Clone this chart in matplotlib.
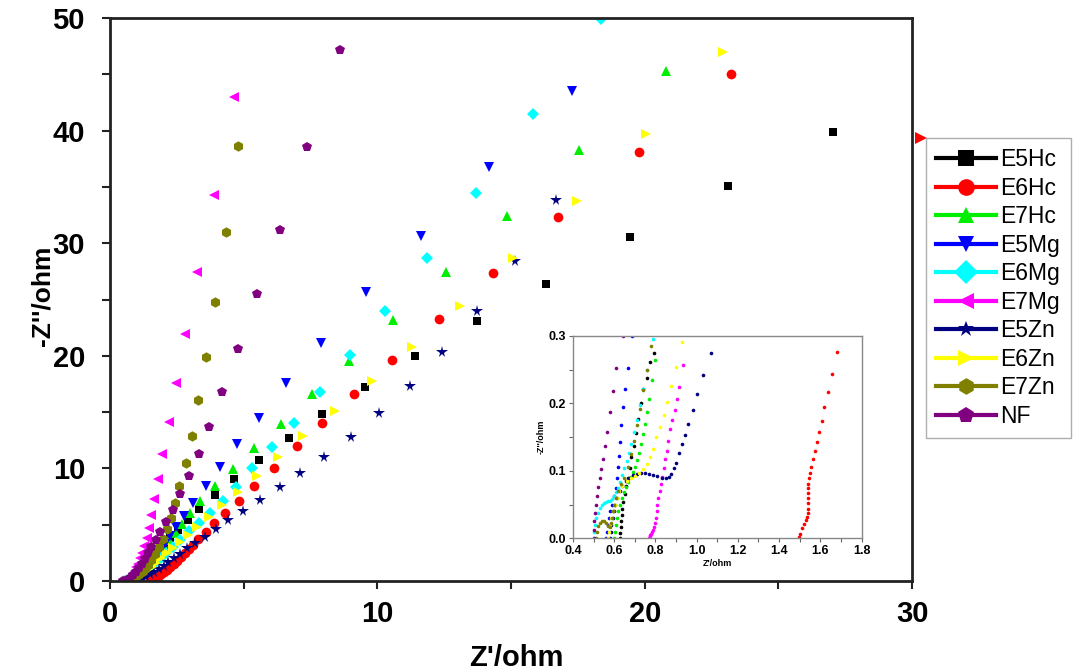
import numpy as np
import matplotlib
matplotlib.use("Agg")
import matplotlib.pyplot as plt
from matplotlib.lines import Line2D
from matplotlib.ticker import MultipleLocator

plt.rcParams['font.family'] = ['Liberation Sans', 'DejaVu Sans']

labels = ['E5Hc', 'E6Hc', 'E7Hc', 'E5Mg', 'E6Mg', 'E7Mg', 'E5Zn', 'E6Zn', 'E7Zn', 'NF']
colors = ['#000000', '#ff0000', '#00ee00', '#0000ff', '#00ffff', '#ff00ff',
          '#000080', '#ffff00', '#808000', '#800080']
markers = ['s', 'o', '^', 'v', 'D', '<', '*', '>', 'h', 'p']

# main plot data (Z', -Z'')
e5hc = np.array([(0.66, 0), (0.74, 0.04), (0.84, 0.14), (0.94, 0.3), (1.04, 0.5), (1.14, 0.75),
                 (1.24, 1.02), (1.35, 1.35), (1.48, 1.72), (1.62, 2.15), (1.8, 2.65), (2.0, 3.2),
                 (2.24, 3.79), (2.56, 4.53), (2.92, 5.39), (3.34, 6.39), (3.93, 7.6), (4.63, 9.03),
                 (5.57, 10.75), (6.7, 12.7), (7.93, 14.8), (9.54, 17.2), (11.4, 20.0), (13.73, 23.1),
                 (16.3, 26.4), (19.45, 30.55), (23.1, 35.1), (27.04, 39.9)])
e6hc = np.array([(1.5, 0), (1.55, 0.04), (1.62, 0.12), (1.7, 0.25), (1.8, 0.4), (1.9, 0.58), (2.0, 0.78),
                 (2.12, 1.0), (2.25, 1.25), (2.38, 1.5), (2.5, 1.8), (2.65, 2.1), (2.8, 2.45), (2.95, 2.8),
                 (3.1, 3.2), (3.3, 3.7), (3.58, 4.35), (3.89, 5.12), (4.3, 6.07), (4.81, 7.13), (5.38, 8.46),
                 (6.14, 10.06), (6.98, 11.99), (7.92, 14.03), (9.14, 16.58), (10.56, 19.6), (12.32, 23.24),
                 (14.32, 27.38), (16.77, 32.3), (19.78, 38.07), (23.23, 45.0)])
e7hc = np.array([(0.7, 0), (0.78, 0.05), (0.88, 0.15), (0.98, 0.3), (1.08, 0.48), (1.18, 0.7), (1.3, 0.95),
                 (1.42, 1.25), (1.55, 1.6), (1.7, 2.0), (1.85, 2.45), (2.0, 3.0), (2.2, 3.6), (2.45, 4.3),
                 (2.7, 5.1), (3.0, 6.0), (3.37, 7.1), (3.94, 8.44), (4.59, 9.95), (5.4, 11.85), (6.39, 13.97),
                 (7.56, 16.58), (8.95, 19.57), (10.58, 23.18), (12.56, 27.4), (14.86, 32.4), (17.55, 38.3),
                 (20.78, 45.3)])
e5mg = np.array([(0.62, 0), (0.72, 0.04), (0.82, 0.13), (0.93, 0.28), (1.05, 0.48), (1.17, 0.72), (1.3, 1.0),
                 (1.43, 1.33), (1.57, 1.72), (1.72, 2.18), (1.88, 2.7), (2.05, 3.3), (2.25, 4.0), (2.47, 4.8),
                 (2.77, 5.77), (3.12, 6.95), (3.59, 8.41), (4.12, 10.1), (4.75, 12.15), (5.57, 14.5),
                 (6.58, 17.56), (7.89, 21.18), (9.56, 25.7), (11.63, 30.64), (14.18, 36.8), (17.28, 43.5)])
e6mg = np.array([(0.52, 0), (0.6, 0.02), (0.72, 0.07), (0.85, 0.18), (0.98, 0.33), (1.12, 0.52), (1.26, 0.75),
                 (1.4, 1.0), (1.55, 1.3), (1.72, 1.65), (1.9, 2.05), (2.1, 2.5), (2.35, 3.05), (2.62, 3.64),
                 (2.96, 4.41), (3.34, 5.18), (3.74, 6.0), (4.21, 7.1), (4.71, 8.37), (5.31, 10.0), (6.06, 11.93),
                 (6.88, 14.03), (7.86, 16.76), (8.98, 20.04), (10.29, 23.98), (11.85, 28.7), (13.69, 34.49),
                 (15.81, 41.47), (18.38, 49.95)])
e7mg = np.array([(0.77, 0), (0.78, 0.14), (0.8, 0.28), (0.83, 0.45), (0.87, 0.65), (0.92, 0.9), (0.98, 1.2),
                 (1.05, 1.55), (1.12, 2.0), (1.2, 2.5), (1.28, 3.1), (1.37, 3.79), (1.46, 4.74), (1.55, 5.86),
                 (1.66, 7.28), (1.81, 9.06), (1.96, 11.28), (2.21, 14.09), (2.48, 17.58), (2.82, 21.96),
                 (3.27, 27.44), (3.87, 34.3), (4.64, 42.96)])
e5zn = np.array([(0.75, 0), (0.9, 0.04), (1.05, 0.12), (1.2, 0.25), (1.35, 0.4), (1.5, 0.58), (1.65, 0.8),
                 (1.82, 1.05), (2.0, 1.35), (2.18, 1.65), (2.38, 2.0), (2.6, 2.4), (2.87, 2.9), (3.18, 3.35),
                 (3.55, 3.94), (3.95, 4.62), (4.42, 5.38), (4.99, 6.2), (5.61, 7.19), (6.35, 8.32), (7.12, 9.55),
                 (8.02, 11.04), (9.0, 12.82), (10.05, 14.92), (11.21, 17.35), (12.42, 20.31), (13.74, 23.95),
                 (15.16, 28.39), (16.67, 33.84)])
e6zn = np.array([(0.62, 0), (0.74, 0.05), (0.86, 0.15), (0.98, 0.3), (1.11, 0.5), (1.25, 0.72), (1.4, 0.98),
                 (1.56, 1.28), (1.73, 1.62), (1.92, 2.02), (2.12, 2.45), (2.35, 2.95), (2.6, 3.5), (2.9, 4.1),
                 (3.27, 4.82), (3.71, 5.66), (4.2, 6.75), (4.8, 7.9), (5.49, 9.35), (6.27, 11.04), (7.23, 12.9),
                 (8.42, 15.07), (9.79, 17.76), (11.31, 20.81), (13.09, 24.42), (15.06, 28.71), (17.45, 33.75),
                 (20.03, 39.73), (22.91, 46.98)])
e7zn = np.array([(0.6, 0), (0.72, 0.05), (0.84, 0.16), (0.95, 0.32), (1.06, 0.52), (1.18, 0.78), (1.3, 1.08),
                 (1.42, 1.45), (1.55, 1.9), (1.68, 2.4), (1.82, 3.0), (1.97, 3.7), (2.12, 4.59), (2.27, 5.57),
                 (2.43, 6.9), (2.59, 8.46), (2.83, 10.45), (3.06, 12.9), (3.3, 16.05), (3.59, 19.92),
                 (3.93, 24.8), (4.33, 30.97), (4.8, 38.6)])
nf = np.array([(0.5, 0), (0.56, 0.03), (0.66, 0.13), (0.76, 0.3), (0.86, 0.52), (0.96, 0.8), (1.07, 1.12),
               (1.18, 1.5), (1.3, 1.95), (1.42, 2.45), (1.55, 3.0), (1.71, 3.64), (1.87, 4.38), (2.1, 5.27),
               (2.35, 6.31), (2.63, 7.7), (2.94, 9.3), (3.33, 11.28), (3.71, 13.71), (4.2, 16.76), (4.79, 20.6),
               (5.51, 25.52), (6.35, 31.17), (7.36, 38.52), (8.62, 47.16)])

# inset data (high-frequency region)
in_e5hc = np.array([(0.63, 0.0), (0.63, 0.008), (0.631, 0.016), (0.633, 0.025), (0.636, 0.034), (0.64, 0.044),
                    (0.645, 0.054), (0.651, 0.065), (0.658, 0.077), (0.666, 0.09), (0.675, 0.104), (0.684, 0.12),
                    (0.694, 0.137), (0.705, 0.156), (0.716, 0.177), (0.728, 0.2), (0.742, 0.222), (0.76, 0.238),
                    (0.775, 0.262), (0.795, 0.275)])
in_e6hc = np.array([(1.496, 0.0015), (1.502, 0.007), (1.51, 0.015), (1.52, 0.021), (1.53, 0.027), (1.537, 0.032),
                    (1.54, 0.038), (1.539, 0.044), (1.539, 0.052), (1.539, 0.059), (1.539, 0.067), (1.54, 0.074),
                    (1.542, 0.081), (1.545, 0.089), (1.55, 0.097), (1.556, 0.106), (1.565, 0.117), (1.574, 0.129),
                    (1.584, 0.143), (1.595, 0.157), (1.607, 0.174), (1.62, 0.194), (1.637, 0.217), (1.655, 0.244),
                    (1.68, 0.276)])
in_e7hc = np.array([(0.6, 0.0), (0.603, 0.01), (0.607, 0.02), (0.613, 0.03), (0.62, 0.04), (0.628, 0.05),
                    (0.637, 0.06), (0.647, 0.068), (0.657, 0.076), (0.668, 0.084), (0.68, 0.091), (0.69, 0.098),
                    (0.7, 0.106), (0.71, 0.116), (0.72, 0.127), (0.73, 0.14), (0.74, 0.155), (0.75, 0.17),
                    (0.76, 0.188), (0.77, 0.207), (0.785, 0.235), (0.8, 0.265)])
in_e5mg = np.array([(0.56, 0.0), (0.565, 0.01), (0.57, 0.02), (0.575, 0.03), (0.58, 0.04), (0.59, 0.05),
                    (0.6, 0.062), (0.607, 0.075), (0.613, 0.09), (0.618, 0.105), (0.622, 0.122), (0.627, 0.143),
                    (0.634, 0.168), (0.642, 0.195), (0.652, 0.222), (0.665, 0.252), (0.685, 0.3)])
in_e6mg = np.array([(0.5, 0.0), (0.502, 0.01), (0.507, 0.02), (0.513, 0.03), (0.52, 0.038), (0.53, 0.045),
                    (0.54, 0.05), (0.55, 0.052), (0.56, 0.054), (0.57, 0.055), (0.58, 0.056), (0.59, 0.058),
                    (0.6, 0.062), (0.61, 0.068), (0.62, 0.075), (0.63, 0.084), (0.64, 0.094), (0.65, 0.104),
                    (0.66, 0.115), (0.67, 0.127), (0.68, 0.14), (0.695, 0.157), (0.71, 0.176), (0.725, 0.197),
                    (0.74, 0.221), (0.76, 0.25), (0.79, 0.295)])
in_e7mg = np.array([(0.77, 0.0), (0.772, 0.003), (0.775, 0.005), (0.78, 0.007), (0.785, 0.009), (0.79, 0.012),
                    (0.795, 0.016), (0.8, 0.022), (0.803, 0.03), (0.806, 0.04), (0.81, 0.05), (0.815, 0.06),
                    (0.82, 0.07), (0.826, 0.08), (0.832, 0.091), (0.84, 0.104), (0.847, 0.117), (0.855, 0.13),
                    (0.862, 0.145), (0.872, 0.162), (0.882, 0.176), (0.893, 0.19), (0.905, 0.206),
                    (0.915, 0.224), (0.935, 0.257)])
in_e5zn = np.array([(0.58, 0.0), (0.583, 0.01), (0.587, 0.02), (0.592, 0.03), (0.598, 0.04), (0.605, 0.05),
                    (0.615, 0.06), (0.627, 0.07), (0.64, 0.078), (0.655, 0.085), (0.67, 0.09), (0.69, 0.094),
                    (0.71, 0.096), (0.73, 0.097), (0.75, 0.097), (0.77, 0.096), (0.79, 0.094), (0.81, 0.092),
                    (0.83, 0.09), (0.85, 0.089), (0.865, 0.091), (0.878, 0.096), (0.89, 0.104), (0.9, 0.112),
                    (0.915, 0.126), (0.93, 0.14), (0.945, 0.153), (0.96, 0.17), (0.98, 0.19), (1.0, 0.214),
                    (1.03, 0.242), (1.07, 0.275)])
in_e6zn = np.array([(0.57, 0.0), (0.575, 0.01), (0.58, 0.02), (0.587, 0.03), (0.594, 0.04), (0.602, 0.05),
                    (0.612, 0.06), (0.625, 0.07), (0.64, 0.078), (0.66, 0.085), (0.68, 0.09), (0.7, 0.093),
                    (0.72, 0.097), (0.74, 0.103), (0.757, 0.11), (0.772, 0.12), (0.79, 0.133), (0.805, 0.15),
                    (0.82, 0.165), (0.84, 0.183), (0.855, 0.202), (0.878, 0.226), (0.9, 0.254), (0.93, 0.291)])
in_e7zn = np.array([(0.51, 0.0), (0.515, 0.01), (0.52, 0.018), (0.53, 0.023), (0.54, 0.025), (0.55, 0.025),
                    (0.56, 0.022), (0.57, 0.018), (0.58, 0.017), (0.585, 0.022), (0.59, 0.03), (0.595, 0.04),
                    (0.6, 0.05), (0.61, 0.06), (0.62, 0.07), (0.635, 0.08), (0.65, 0.09), (0.665, 0.105),
                    (0.68, 0.125), (0.695, 0.145), (0.71, 0.168), (0.725, 0.192), (0.74, 0.22), (0.76, 0.25),
                    (0.78, 0.285)])
in_nf = np.array([(0.5, 0.0), (0.5, 0.012), (0.503, 0.025), (0.507, 0.037), (0.512, 0.05), (0.517, 0.063),
                  (0.523, 0.076), (0.53, 0.09), (0.538, 0.103), (0.547, 0.118), (0.556, 0.137), (0.566, 0.158),
                  (0.578, 0.187), (0.592, 0.218), (0.61, 0.253), (0.645, 0.3)])

main_data = [e5hc, e6hc, e7hc, e5mg, e6mg, e7mg, e5zn, e6zn, e7zn, nf]
inset_data = [in_e5hc, in_e6hc, in_e7hc, in_e5mg, in_e6mg, in_e7mg, in_e5zn, in_e6zn, in_e7zn, in_nf]

fig = plt.figure(figsize=(10.81, 6.72), dpi=100)
ax = fig.add_axes([0.1018, 0.1354, 0.7419, 0.8378])

sizes = [6, 7, 7.5, 7.5, 6, 7.5, 8.5, 7.5, 7.5, 7.5]
for d, c, m, s in zip(main_data, colors, markers, sizes):
    ax.plot(d[:, 0], d[:, 1], linestyle='none', marker=m, color=c, ms=s, mew=0)

# stray red marker just outside the frame
ax.plot([30.35], [39.3], linestyle='none', marker='>', color='#ff0000', ms=8, mew=0, clip_on=False)

ax.set_xlim(0, 30)
ax.set_ylim(0, 50)
ax.xaxis.set_major_locator(MultipleLocator(10))
ax.xaxis.set_minor_locator(MultipleLocator(5))
ax.yaxis.set_major_locator(MultipleLocator(10))
ax.yaxis.set_minor_locator(MultipleLocator(5))
ax.tick_params(which='both', direction='out', length=6, width=1.5, color='#222222')
ax.tick_params(axis='y', which='major', pad=12, labelsize=21)
ax.tick_params(axis='x', which='major', pad=8, labelsize=21)
for lab in ax.get_xticklabels() + ax.get_yticklabels():
    lab.set_fontweight('bold')
for sp in ax.spines.values():
    sp.set_linewidth(2)
    sp.set_color('#222222')
ax.set_xlabel("Z'/ohm", fontsize=21, fontweight='bold')
ax.set_ylabel("-Z''/ohm", fontsize=19, fontweight='bold')
ax.xaxis.set_label_coords(0.507, -0.112)
ax.yaxis.set_label_coords(-0.069, 0.506)

handles = [Line2D([], [], color=c, marker=m, ms=12, lw=3, mew=0)
           for c, m in zip(colors, markers)]
fig.legend(handles, labels, loc='upper left', bbox_to_anchor=(0.8566, 0.7946), borderaxespad=0,
           fontsize=16.5, frameon=True, fancybox=False, edgecolor='#999999',
           handlelength=2.6, handletextpad=0.2, labelspacing=0.24, borderpad=0.45)

# inset
ins = fig.add_axes([0.530, 0.199, 0.267, 0.301])
for d, c in zip(inset_data, colors):
    ins.plot(d[:, 0], d[:, 1], linestyle='none', marker='o', color=c, ms=2.6, mew=0)
ins.set_xlim(0.4, 1.8)
ins.set_ylim(0, 0.3)
ins.xaxis.set_major_locator(MultipleLocator(0.2))
ins.xaxis.set_minor_locator(MultipleLocator(0.1))
ins.yaxis.set_major_locator(MultipleLocator(0.1))
ins.yaxis.set_minor_locator(MultipleLocator(0.05))
ins.tick_params(which='both', direction='out', length=3, width=0.8, color='#666666', labelsize=9, pad=2)
for lab in ins.get_xticklabels() + ins.get_yticklabels():
    lab.set_fontweight('bold')
for sp in ins.spines.values():
    sp.set_linewidth(1)
    sp.set_color('#888888')
ins.set_xlabel("Z'/ohm", fontsize=6.5, fontweight='bold', labelpad=1)
ins.set_ylabel("-Z''/ohm", fontsize=6.5, fontweight='bold', labelpad=2)

fig.savefig('out.png', dpi=100)
